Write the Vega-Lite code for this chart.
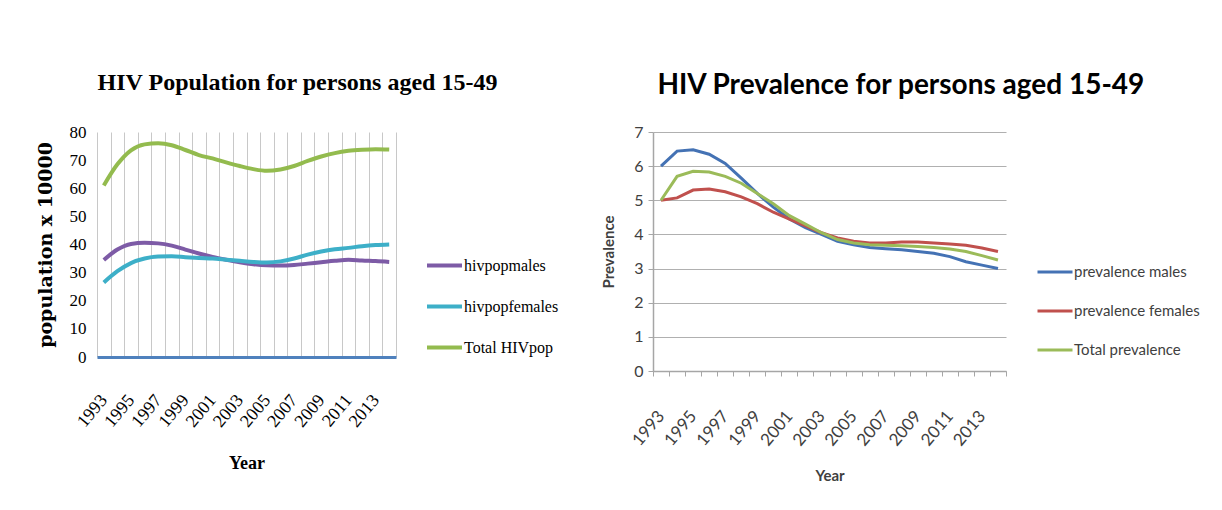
{
  "$schema": "https://vega.github.io/schema/vega-lite/v6.json",
  "background": "white",
  "padding": {"left": 36, "top": 71, "right": 0, "bottom": 0},
  "spacing": 42,
  "config": {"view": {"stroke": null}},
  "resolve": {"scale": {"color": "independent"}, "legend": {"color": "independent"}},
  "datasets": {
    "pop": [
      {"year": 1993, "series": "hivpopmales", "value": 34.5},
      {"year": 1994, "series": "hivpopmales", "value": 38.2},
      {"year": 1995, "series": "hivpopmales", "value": 40.2},
      {"year": 1996, "series": "hivpopmales", "value": 40.6},
      {"year": 1997, "series": "hivpopmales", "value": 40.4},
      {"year": 1998, "series": "hivpopmales", "value": 39.6},
      {"year": 1999, "series": "hivpopmales", "value": 38.2},
      {"year": 2000, "series": "hivpopmales", "value": 36.8},
      {"year": 2001, "series": "hivpopmales", "value": 35.6},
      {"year": 2002, "series": "hivpopmales", "value": 34.6},
      {"year": 2003, "series": "hivpopmales", "value": 33.7},
      {"year": 2004, "series": "hivpopmales", "value": 33.0},
      {"year": 2005, "series": "hivpopmales", "value": 32.6},
      {"year": 2006, "series": "hivpopmales", "value": 32.5},
      {"year": 2007, "series": "hivpopmales", "value": 32.7},
      {"year": 2008, "series": "hivpopmales", "value": 33.2},
      {"year": 2009, "series": "hivpopmales", "value": 33.7},
      {"year": 2010, "series": "hivpopmales", "value": 34.2},
      {"year": 2011, "series": "hivpopmales", "value": 34.6},
      {"year": 2012, "series": "hivpopmales", "value": 34.3},
      {"year": 2013, "series": "hivpopmales", "value": 34.1},
      {"year": 2014, "series": "hivpopmales", "value": 33.8},
      {"year": 1993, "series": "hivpopfemales", "value": 26.5},
      {"year": 1994, "series": "hivpopfemales", "value": 30.5},
      {"year": 1995, "series": "hivpopfemales", "value": 33.4},
      {"year": 1996, "series": "hivpopfemales", "value": 35.0},
      {"year": 1997, "series": "hivpopfemales", "value": 35.7},
      {"year": 1998, "series": "hivpopfemales", "value": 35.8},
      {"year": 1999, "series": "hivpopfemales", "value": 35.5},
      {"year": 2000, "series": "hivpopfemales", "value": 35.2},
      {"year": 2001, "series": "hivpopfemales", "value": 35.0},
      {"year": 2002, "series": "hivpopfemales", "value": 34.6},
      {"year": 2003, "series": "hivpopfemales", "value": 34.2},
      {"year": 2004, "series": "hivpopfemales", "value": 33.8},
      {"year": 2005, "series": "hivpopfemales", "value": 33.6},
      {"year": 2006, "series": "hivpopfemales", "value": 34.0},
      {"year": 2007, "series": "hivpopfemales", "value": 35.0},
      {"year": 2008, "series": "hivpopfemales", "value": 36.4},
      {"year": 2009, "series": "hivpopfemales", "value": 37.5},
      {"year": 2010, "series": "hivpopfemales", "value": 38.3},
      {"year": 2011, "series": "hivpopfemales", "value": 38.8},
      {"year": 2012, "series": "hivpopfemales", "value": 39.4},
      {"year": 2013, "series": "hivpopfemales", "value": 39.8},
      {"year": 2014, "series": "hivpopfemales", "value": 40.0},
      {"year": 1993, "series": "Total HIVpop", "value": 61.0},
      {"year": 1994, "series": "Total HIVpop", "value": 68.5},
      {"year": 1995, "series": "Total HIVpop", "value": 73.5},
      {"year": 1996, "series": "Total HIVpop", "value": 75.6},
      {"year": 1997, "series": "Total HIVpop", "value": 76.0},
      {"year": 1998, "series": "Total HIVpop", "value": 75.3},
      {"year": 1999, "series": "Total HIVpop", "value": 73.6},
      {"year": 2000, "series": "Total HIVpop", "value": 71.8},
      {"year": 2001, "series": "Total HIVpop", "value": 70.6},
      {"year": 2002, "series": "Total HIVpop", "value": 69.2},
      {"year": 2003, "series": "Total HIVpop", "value": 67.9},
      {"year": 2004, "series": "Total HIVpop", "value": 66.8},
      {"year": 2005, "series": "Total HIVpop", "value": 66.2},
      {"year": 2006, "series": "Total HIVpop", "value": 66.7},
      {"year": 2007, "series": "Total HIVpop", "value": 67.9},
      {"year": 2008, "series": "Total HIVpop", "value": 69.7},
      {"year": 2009, "series": "Total HIVpop", "value": 71.3},
      {"year": 2010, "series": "Total HIVpop", "value": 72.5},
      {"year": 2011, "series": "Total HIVpop", "value": 73.3},
      {"year": 2012, "series": "Total HIVpop", "value": 73.7},
      {"year": 2013, "series": "Total HIVpop", "value": 73.9},
      {"year": 2014, "series": "Total HIVpop", "value": 73.8}
    ],
    "prev": [
      {"year": 1993, "series": "prevalence males", "value": 6.0},
      {"year": 1994, "series": "prevalence males", "value": 6.44},
      {"year": 1995, "series": "prevalence males", "value": 6.48},
      {"year": 1996, "series": "prevalence males", "value": 6.35},
      {"year": 1997, "series": "prevalence males", "value": 6.08},
      {"year": 1998, "series": "prevalence males", "value": 5.65},
      {"year": 1999, "series": "prevalence males", "value": 5.2},
      {"year": 2000, "series": "prevalence males", "value": 4.8},
      {"year": 2001, "series": "prevalence males", "value": 4.45},
      {"year": 2002, "series": "prevalence males", "value": 4.2},
      {"year": 2003, "series": "prevalence males", "value": 4.0},
      {"year": 2004, "series": "prevalence males", "value": 3.8},
      {"year": 2005, "series": "prevalence males", "value": 3.7},
      {"year": 2006, "series": "prevalence males", "value": 3.62},
      {"year": 2007, "series": "prevalence males", "value": 3.58},
      {"year": 2008, "series": "prevalence males", "value": 3.55},
      {"year": 2009, "series": "prevalence males", "value": 3.5},
      {"year": 2010, "series": "prevalence males", "value": 3.45},
      {"year": 2011, "series": "prevalence males", "value": 3.35},
      {"year": 2012, "series": "prevalence males", "value": 3.2},
      {"year": 2013, "series": "prevalence males", "value": 3.1},
      {"year": 2014, "series": "prevalence males", "value": 3.0},
      {"year": 1993, "series": "prevalence females", "value": 5.0},
      {"year": 1994, "series": "prevalence females", "value": 5.07},
      {"year": 1995, "series": "prevalence females", "value": 5.3},
      {"year": 1996, "series": "prevalence females", "value": 5.33},
      {"year": 1997, "series": "prevalence females", "value": 5.25},
      {"year": 1998, "series": "prevalence females", "value": 5.1},
      {"year": 1999, "series": "prevalence females", "value": 4.9},
      {"year": 2000, "series": "prevalence females", "value": 4.65},
      {"year": 2001, "series": "prevalence females", "value": 4.45},
      {"year": 2002, "series": "prevalence females", "value": 4.25},
      {"year": 2003, "series": "prevalence females", "value": 4.05},
      {"year": 2004, "series": "prevalence females", "value": 3.9},
      {"year": 2005, "series": "prevalence females", "value": 3.8},
      {"year": 2006, "series": "prevalence females", "value": 3.75},
      {"year": 2007, "series": "prevalence females", "value": 3.75},
      {"year": 2008, "series": "prevalence females", "value": 3.78},
      {"year": 2009, "series": "prevalence females", "value": 3.78},
      {"year": 2010, "series": "prevalence females", "value": 3.75},
      {"year": 2011, "series": "prevalence females", "value": 3.72},
      {"year": 2012, "series": "prevalence females", "value": 3.68},
      {"year": 2013, "series": "prevalence females", "value": 3.6},
      {"year": 2014, "series": "prevalence females", "value": 3.5},
      {"year": 1993, "series": "Total prevalence", "value": 5.0},
      {"year": 1994, "series": "Total prevalence", "value": 5.7},
      {"year": 1995, "series": "Total prevalence", "value": 5.85},
      {"year": 1996, "series": "Total prevalence", "value": 5.83},
      {"year": 1997, "series": "Total prevalence", "value": 5.7},
      {"year": 1998, "series": "Total prevalence", "value": 5.5},
      {"year": 1999, "series": "Total prevalence", "value": 5.2},
      {"year": 2000, "series": "Total prevalence", "value": 4.9},
      {"year": 2001, "series": "Total prevalence", "value": 4.55},
      {"year": 2002, "series": "Total prevalence", "value": 4.3},
      {"year": 2003, "series": "Total prevalence", "value": 4.05},
      {"year": 2004, "series": "Total prevalence", "value": 3.85},
      {"year": 2005, "series": "Total prevalence", "value": 3.75},
      {"year": 2006, "series": "Total prevalence", "value": 3.7},
      {"year": 2007, "series": "Total prevalence", "value": 3.68},
      {"year": 2008, "series": "Total prevalence", "value": 3.67},
      {"year": 2009, "series": "Total prevalence", "value": 3.65},
      {"year": 2010, "series": "Total prevalence", "value": 3.62},
      {"year": 2011, "series": "Total prevalence", "value": 3.57},
      {"year": 2012, "series": "Total prevalence", "value": 3.5},
      {"year": 2013, "series": "Total prevalence", "value": 3.38},
      {"year": 2014, "series": "Total prevalence", "value": 3.25}
    ]
  },
  "hconcat": [
    {
      "width": 299,
      "height": 225,
      "title": {"text": "HIV Population for persons aged 15-49", "font": "Liberation Serif", "fontSize": 24, "fontWeight": "bold", "color": "black", "anchor": "middle", "frame": "bounds", "offset": 28},
      "data": {"name": "pop"},
      "mark": {"type": "line", "interpolate": "monotone", "strokeWidth": 4},
      "encoding": {
        "x": {
          "field": "year", "type": "quantitative",
          "scale": {"domain": [1992.5, 2014.5], "nice": false, "zero": false},
          "axis": {
            "values": [1992.5, 1993.5, 1994.5, 1995.5, 1996.5, 1997.5, 1998.5, 1999.5, 2000.5, 2001.5, 2002.5, 2003.5, 2004.5, 2005.5, 2006.5, 2007.5, 2008.5, 2009.5, 2010.5, 2011.5, 2012.5, 2013.5, 2014.5],
            "labelExpr": "datum.value < 2014 && (datum.value - 0.5) % 2 == 0 ? toString(datum.value + 0.5) : ''",
            "labelAngle": -50, "labelFont": "Liberation Serif", "labelFontSize": 18, "labelColor": "black",
            "labelPadding": 40, "labelOffset": 6.8, "labelFlush": false, "labelOverlap": false,
            "ticks": false, "grid": true, "gridColor": "#c8c8c8", "gridWidth": 1,
            "domain": true, "domainColor": "#4F81BD", "domainWidth": 3,
            "title": "Year", "titleFont": "Liberation Serif", "titleFontSize": 18, "titleFontWeight": "bold", "titleColor": "black", "titlePadding": 24
          }
        },
        "y": {
          "field": "value", "type": "quantitative",
          "scale": {"domain": [0, 80], "nice": false},
          "axis": {
            "values": [0, 10, 20, 30, 40, 50, 60, 70, 80],
            "grid": false, "domain": false, "ticks": false,
            "labelFont": "Liberation Serif", "labelFontSize": 17, "labelColor": "black", "labelPadding": 11,
            "title": "population x 10000", "titleFont": "DejaVu Serif", "titleFontSize": 19, "titleFontWeight": "bold", "titleColor": "black", "titlePadding": 14
          }
        },
        "color": {
          "field": "series", "type": "nominal",
          "scale": {"domain": ["hivpopmales", "hivpopfemales", "Total HIVpop"], "range": ["#7D5BA6", "#3DAFC8", "#93BB4E"]},
          "legend": {
            "orient": "none", "legendX": 328, "legendY": 114, "title": null,
            "symbolType": "stroke", "symbolSize": 1225, "symbolStrokeWidth": 4,
            "labelFont": "Liberation Serif", "labelFontSize": 16, "labelColor": "black", "labelOffset": 0, "rowPadding": 13
          }
        }
      }
    },
    {
      "width": 353,
      "height": 239,
      "title": {"text": "HIV Prevalence for persons aged 15-49", "font": "Lato", "fontSize": 28, "fontWeight": "bold", "color": "black", "anchor": "middle", "frame": "bounds", "offset": 24},
      "data": {"name": "prev"},
      "mark": {"type": "line", "strokeWidth": 3},
      "encoding": {
        "x": {
          "field": "year", "type": "quantitative",
          "scale": {"domain": [1992.5, 2014.5], "nice": false, "zero": false},
          "axis": {
            "values": [1992.5, 1993.5, 1994.5, 1995.5, 1996.5, 1997.5, 1998.5, 1999.5, 2000.5, 2001.5, 2002.5, 2003.5, 2004.5, 2005.5, 2006.5, 2007.5, 2008.5, 2009.5, 2010.5, 2011.5, 2012.5, 2013.5, 2014.5],
            "labelExpr": "datum.value < 2014 && (datum.value - 0.5) % 2 == 0 ? toString(datum.value + 0.5) : ''",
            "labelAngle": -50, "labelFont": "Lato", "labelFontSize": 17, "labelColor": "#404040",
            "labelPadding": 37, "labelOffset": 8, "labelFlush": false, "labelOverlap": false,
            "ticks": true, "tickSize": 5, "tickColor": "#a6a6a6", "grid": false,
            "domain": true, "domainColor": "#a6a6a6", "domainWidth": 1.5,
            "title": "Year", "titleFont": "Lato", "titleFontSize": 15, "titleFontWeight": "bold", "titleColor": "#404040", "titlePadding": 20
          }
        },
        "y": {
          "field": "value", "type": "quantitative",
          "scale": {"domain": [0, 7], "nice": false},
          "axis": {
            "values": [0, 1, 2, 3, 4, 5, 6, 7],
            "grid": true, "gridColor": "#b0b0b0", "gridWidth": 1.2,
            "domain": true, "domainColor": "#a6a6a6", "domainWidth": 1.5,
            "ticks": true, "tickSize": 5, "tickColor": "#a6a6a6",
            "labelFont": "Lato", "labelFontSize": 16, "labelColor": "#404040", "labelPadding": 5,
            "title": "Prevalence", "titleFont": "Lato", "titleFontSize": 15, "titleFontWeight": "bold", "titleColor": "#404040", "titlePadding": 17
          }
        },
        "color": {
          "field": "series", "type": "nominal",
          "scale": {"domain": ["prevalence males", "prevalence females", "Total prevalence"], "range": ["#4472B4", "#C0504D", "#9BBB59"]},
          "legend": {
            "orient": "none", "legendX": 383, "legendY": 121, "title": null,
            "symbolType": "stroke", "symbolSize": 1225, "symbolStrokeWidth": 3,
            "labelFont": "Lato", "labelFontSize": 15, "labelColor": "#404040", "labelOffset": 0, "rowPadding": 12
          }
        }
      }
    }
  ]
}
